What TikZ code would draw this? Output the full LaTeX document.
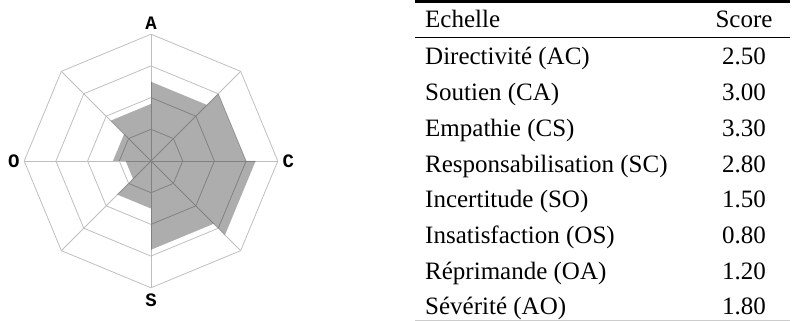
\documentclass[tikz,border=0pt]{standalone}
\usepackage{fontspec}
\setmainfont{Liberation Serif}
\newfontfamily\axisfont{Liberation Mono}[BoldFont={Liberation Mono Bold}]

\begin{document}
\begin{tikzpicture}[x=1pt, y=1pt]
    \useasboundingbox (0,0) rectangle (792,321);

    % Netz
    \begin{scope}[shift={(151,160)}, x=31.7pt, y=31.7pt]
        \foreach \r in {1,2,3,4}
            \draw [gray!50, line width=0.8pt] (90:\r) -- (45:\r) -- (0:\r) -- (-45:\r) -- (-90:\r) -- (-135:\r) -- (180:\r) -- (135:\r) -- cycle;
        \foreach \w in {0,45,...,315}
            \draw [gray!50, line width=0.8pt] (0,0) -- (\w:4);

        % Werte
        \fill [black, opacity=0.32] (90:2.5) -- (45:2.5) -- (45:3.0) -- (0:3.0) -- (0:3.3) -- (-45:3.3)
            -- (-45:2.8) -- (-90:2.8) -- (-90:1.5) -- (-135:1.5) -- (-135:0.8) -- (180:0.8)
            -- (180:1.2) -- (135:1.2) -- (135:1.8) -- (90:1.8) -- cycle;

        % Achsen
        \node [font=\fontsize{19}{22}\axisfont\bfseries\selectfont] (lblA) at (90:4.36) {A};
        \node [font=\fontsize{19}{22}\axisfont\bfseries\selectfont] (lblC) at (0:4.33) {C};
        \node [font=\fontsize{19}{22}\axisfont\bfseries\selectfont] (lblS) at (-90:4.4) {S};
        \node [font=\fontsize{19}{22}\axisfont\bfseries\selectfont] (lblO) at (180:4.33) {O};
    \end{scope}

    % Tabelle
    \draw [line width=2.5pt] (415,319.7) -- (790,319.7);
    \draw [line width=1pt] (415,283) -- (790,283);
    \draw [gray!40, line width=0.6pt] (415,0.8) -- (790,0.8);

    \begin{scope}[font=\fontsize{25}{29}\selectfont]
        \node [anchor=base west, inner sep=0pt] (kopf) at (425,293) {Echelle};
        \node [anchor=base, inner sep=0pt] (kopfwert) at (744,293) {Score};

        \node [anchor=base west, inner sep=0pt] (z1) at (425,256.0) {Directivité (AC)};
        \node [anchor=base west, inner sep=0pt] (z2) at (425,220.3) {Soutien (CA)};
        \node [anchor=base west, inner sep=0pt] (z3) at (425,184.6) {Empathie (CS)};
        \node [anchor=base west, inner sep=0pt] (z4) at (425,148.9) {Responsabilisation (SC)};
        \node [anchor=base west, inner sep=0pt] (z5) at (425,113.2) {Incertitude (SO)};
        \node [anchor=base west, inner sep=0pt] (z6) at (425,77.5) {Insatisfaction (OS)};
        \node [anchor=base west, inner sep=0pt] (z7) at (425,41.8) {Réprimande (OA)};
        \node [anchor=base west, inner sep=0pt] (z8) at (425,6.1) {Sévérité (AO)};

        \node [anchor=base, inner sep=0pt] (w1) at (744,256.0) {2.50};
        \node [anchor=base, inner sep=0pt] (w2) at (744,220.3) {3.00};
        \node [anchor=base, inner sep=0pt] (w3) at (744,184.6) {3.30};
        \node [anchor=base, inner sep=0pt] (w4) at (744,148.9) {2.80};
        \node [anchor=base, inner sep=0pt] (w5) at (744,113.2) {1.50};
        \node [anchor=base, inner sep=0pt] (w6) at (744,77.5) {0.80};
        \node [anchor=base, inner sep=0pt] (w7) at (744,41.8) {1.20};
        \node [anchor=base, inner sep=0pt] (w8) at (744,6.1) {1.80};
    \end{scope}
\end{tikzpicture}
\end{document}
